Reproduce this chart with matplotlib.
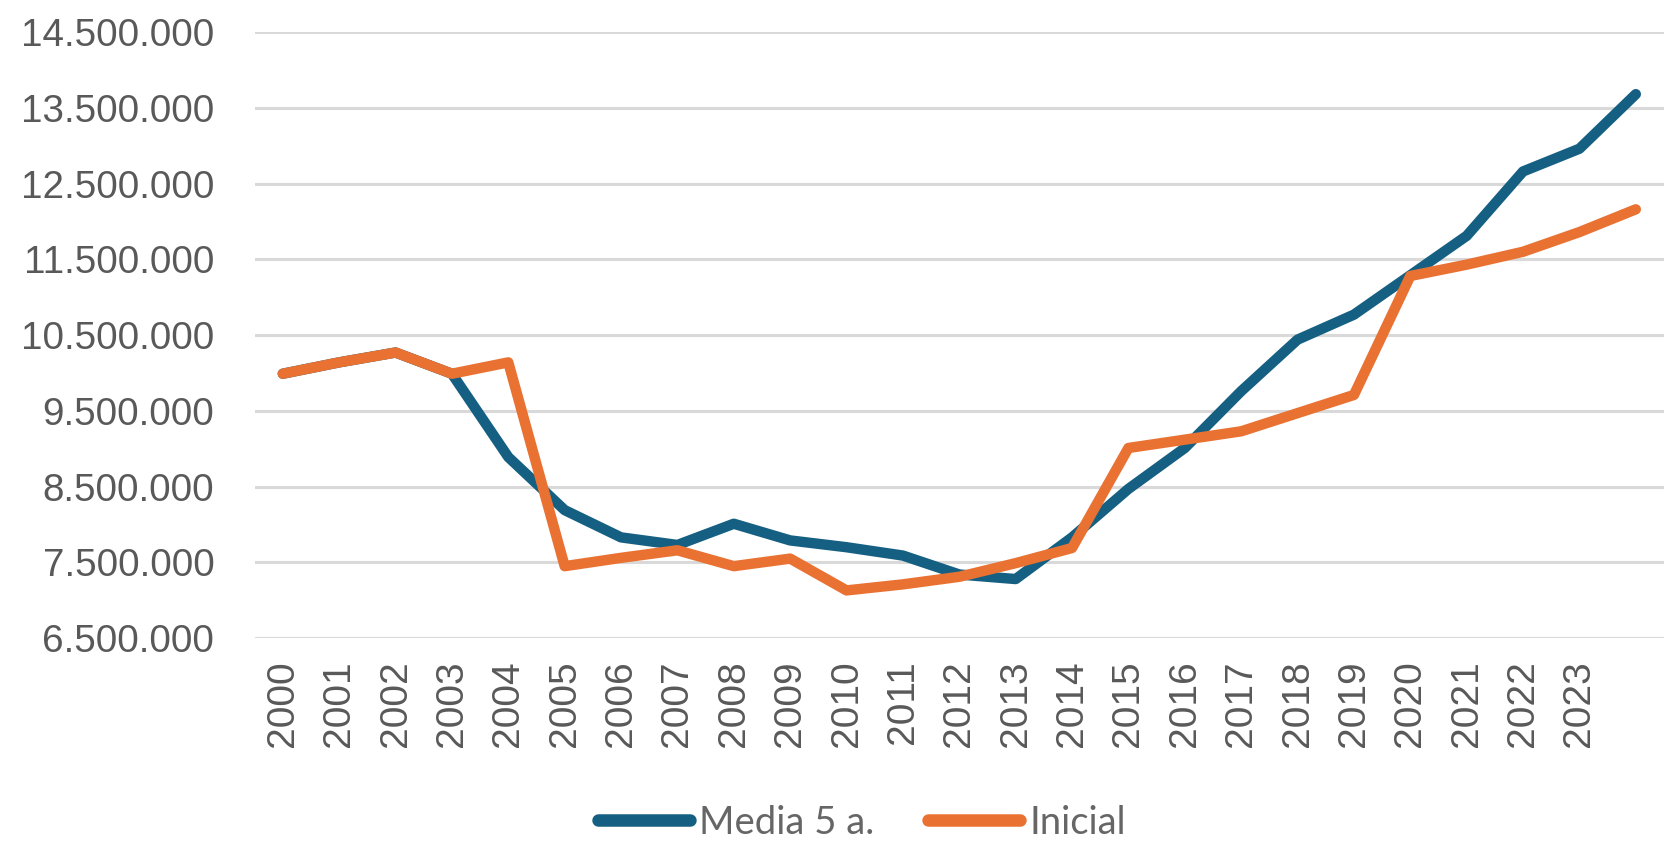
import matplotlib
matplotlib.use("Agg")
import matplotlib.pyplot as plt
from matplotlib.ticker import FuncFormatter, FixedLocator

years = [str(y) for y in range(2000, 2024)]
media5 = [9.99, 10.14, 10.27, 9.99, 8.89, 8.19, 7.83, 7.73, 8.01, 7.79, 7.70, 7.59,
          7.34, 7.28, 7.83, 8.47, 9.01, 9.76, 10.44, 10.77, 11.29, 11.81, 12.66, 12.96, 13.68]
inicial = [9.99, 10.14, 10.27, 9.99, 10.14, 7.45, 7.56, 7.66, 7.45, 7.55, 7.13, 7.21,
           7.31, 7.49, 7.69, 9.01, 9.12, 9.23, 9.47, 9.71, 11.28, 11.43, 11.60, 11.86, 12.16]
media5 = [v * 1e6 for v in media5]
inicial = [v * 1e6 for v in inicial]
yticks = [6.5e6 + i * 1e6 for i in range(9)]

BLUE = "#156082"
ORANGE = "#E97132"
GRAY = "#595959"

fig = plt.figure(figsize=(16.64, 8.43), dpi=100)
ax = fig.add_axes([0.153, 0.243, 0.847, 0.719])

x = list(range(len(media5)))
ax.plot(x, media5, color=BLUE, lw=7.5, solid_capstyle="round", solid_joinstyle="round",
        label="Media 5 a.", zorder=3)
ax.plot(x, inicial, color=ORANGE, lw=7.5, solid_capstyle="round", solid_joinstyle="round",
        label="Inicial", zorder=4)

ax.set_xlim(-0.5, len(media5) - 0.5)
ax.set_ylim(6.5e6, 14.5e6)
ax.yaxis.set_major_locator(FixedLocator(yticks))
ax.yaxis.set_major_formatter(FuncFormatter(lambda v, p: f"{int(round(v)):,}".replace(",", ".")))
ax.set_xticks(range(len(years)))
ax.set_xticklabels(years, rotation=90)

for s in ax.spines.values():
    s.set_visible(False)
ax.grid(axis="y", color="#D9D9D9", lw=2.2, zorder=0)
ax.set_axisbelow(True)
ax.tick_params(axis="both", length=0, labelcolor=GRAY)
for lab in ax.get_yticklabels():
    lab.set_fontfamily("Liberation Sans")
    lab.set_fontsize(27.8)
for lab in ax.get_xticklabels():
    lab.set_fontfamily("Liberation Sans")
    lab.set_fontsize(28)
ax.tick_params(axis="y", pad=29)
ax.tick_params(axis="x", pad=16)

leg = fig.legend(loc="center", bbox_to_anchor=(0.518, 0.024), ncol=2, frameon=False,
                 handlelength=2.4, handletextpad=0.25, columnspacing=1.4,
                 prop={"family": "Lato", "size": 27.5})
for line in leg.get_lines():
    line.set_linewidth(9)
    line.set_solid_capstyle("round")
for t in leg.get_texts():
    t.set_color("#666666")

fig.savefig("out.png", dpi=100)
